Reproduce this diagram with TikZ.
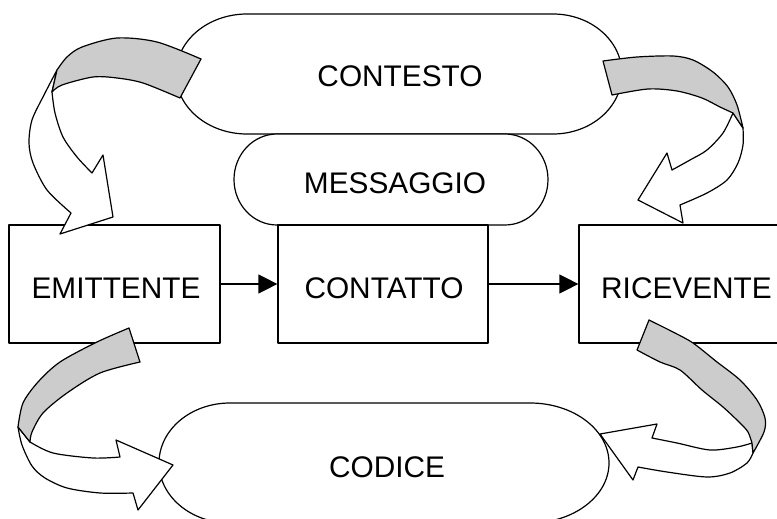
\documentclass[tikz,border=0pt]{standalone}
\usepackage{fontspec}
\setmainfont{Liberation Sans}
\usetikzlibrary{arrows.meta}
\definecolor{ribbon}{HTML}{CCCCCC}
\newcommand{\lblfont}{\fontsize{29.8}{35}\selectfont}
\begin{document}
\begin{tikzpicture}[x=1pt,y=-1pt, line width=1.2pt, line join=round,
  box/.style={draw, fill=white, minimum width=211pt, minimum height=118pt, inner sep=0pt, text height=28pt, text depth=0pt, font=\lblfont},
  lbl/.style={inner sep=0pt, font=\lblfont},
  pill/.style={draw, fill=white},
  conn/.style={-{Triangle[length=19pt,width=19pt]}},
  ribbongray/.style={draw, fill=ribbon},
  ribbonwhite/.style={draw, fill=white}]
\useasboundingbox (0,0) rectangle (777,519);
\clip (0,0) rectangle (777,519);

% CONTESTO
\path[pill] (553,14) -- (247,14) arc[start angle=270, end angle=90, x radius=71, y radius=60]
  -- (553,134) arc[start angle=90, end angle=-90, x radius=69, y radius=60] -- cycle;
\node[lbl] (contesto) at (400,76) {CONTESTO};

% MESSAGGIO
\path[pill] (505,134) -- (277,134) arc[start angle=270, end angle=90, x radius=43, y radius=45.5]
  -- (505,225) arc[start angle=90, end angle=-90, x radius=43, y radius=45.5] -- cycle;
\node[lbl] (messaggio) at (395,183) {MESSAGGIO};

% CODICE
\path[pill] (530,403) -- (230,403) arc[start angle=270, end angle=90, x radius=71, y radius=60]
  -- (530,523) arc[start angle=90, end angle=-90, x radius=79, y radius=60] -- cycle;
\node[lbl] (codice) at (387,467) {CODICE};

% boxes
\node[box] (emit) at (114.5,284) {\hspace{3pt}EMITTENTE};
\node[box, minimum width=210pt] (cont) at (383,284) {\hspace{2pt}CONTATTO};
\node[box] (ric) at (684.5,284) {\hspace{4pt}RICEVENTE};

\draw[conn] (emit) -- (cont);
\draw[conn] (cont) -- (ric);

% arrow 1 (top left)
\path[ribbonwhite] plot[smooth] coordinates {(57,70) (44,95) (32,120) (29,143) (33,163) (47,190) (71,213)}
  -- (60,234) -- (113,217) -- (103,155)
  -- plot[smooth] coordinates {(92,173) (77,157) (63,137) (55,113) (52,92)} -- cycle;
\path[ribbongray] plot[smooth] coordinates {(201,59) (157,42) (117,38) (82,47) (67,57) (57,70)}
  -- plot[smooth] coordinates {(52,92) (62,85) (93,77) (117,78) (143,83) (180,98)} -- cycle;

% arrow 2 (top right)
\path[ribbonwhite] plot[smooth] coordinates {(743,128) (743,145) (738,163) (727,180) (707,193) (680,205)}
  -- (683,223) -- (638,200) -- (667,153)
  -- plot[smooth] coordinates {(672,170) (690,160) (707,150) (723,133) (733,113)} -- cycle;
\path[ribbongray] plot[smooth] coordinates {(603,61) (637,57) (673,56) (693,60) (713,72) (728,87) (737,105) (743,128)}
  -- plot[smooth] coordinates {(733,113) (720,107) (702,98) (677,91) (648,89) (612,95)} -- cycle;

% arrow 3 (bottom left)
\path[ribbonwhite] plot[smooth] coordinates {(18,427) (22,445) (32,466) (45,478) (67,488) (100,493) (133,493)}
  -- (138,510) -- (173,465) -- (116,440)
  -- plot[smooth] coordinates {(120,457) (93,458) (53,453) (30,442)} -- cycle;
\path[ribbongray] plot[smooth] coordinates {(129,328) (97,342) (60,362) (38,382) (23,403) (18,427)}
  -- plot[smooth] coordinates {(30,442) (32,432) (43,413) (67,393) (100,373) (140,362)} -- cycle;

% arrow 4 (bottom right)
\path[ribbonwhite] plot[smooth] coordinates {(752,443) (737,447) (710,450) (677,443) (652,438)}
  -- (657,424) -- (600,434) -- (633,480)
  -- plot[smooth] coordinates {(638,467) (667,472) (707,477) (730,473) (747,463) (753,453)} -- cycle;
\path[ribbongray] plot[smooth] coordinates {(649,320) (673,332) (693,343) (717,362) (740,380) (757,400) (765,418) (764,432) (753,453)}
  -- plot[smooth] coordinates {(752,443) (748,432) (740,423) (723,407) (702,390) (680,370) (660,362) (637,350)} -- cycle;
\end{tikzpicture}
\end{document}
